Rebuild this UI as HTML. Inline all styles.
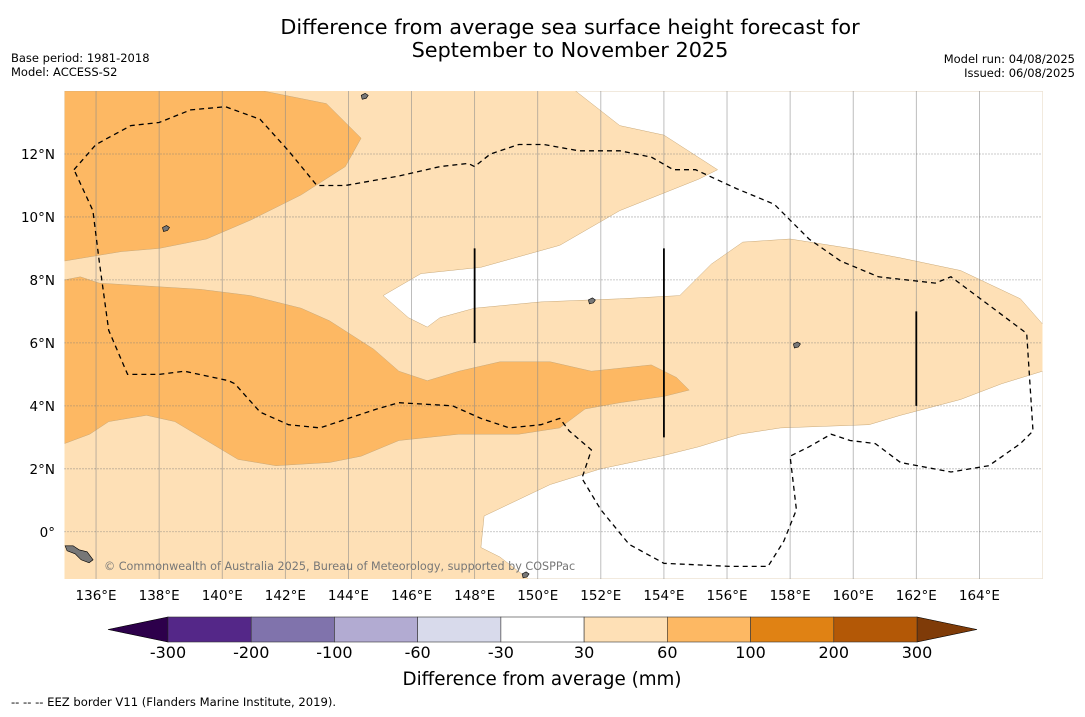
<!DOCTYPE html>
<html><head><meta charset="utf-8">
<style>
html,body{margin:0;padding:0;background:#fff;}
body{width:1085px;height:713px;overflow:hidden;font-family:"DejaVu Sans","Liberation Sans",sans-serif;}
svg text{font-family:"DejaVu Sans","Liberation Sans",sans-serif;}
</style></head>
<body>
<svg id="chart" width="1085" height="713" xmlns="http://www.w3.org/2000/svg">
<text x="570" y="34" font-size="20.8" text-anchor="middle">Difference from average sea surface height forecast for</text>
<text x="570" y="57" font-size="20.8" text-anchor="middle">September to November 2025</text>
<text x="11" y="62" font-size="11.5">Base period: 1981-2018</text>
<text x="11" y="76" font-size="11.5">Model: ACCESS-S2</text>
<text x="1075" y="63" font-size="11.5" text-anchor="end">Model run: 04/08/2025</text>
<text x="1075" y="77" font-size="11.5" text-anchor="end">Issued: 06/08/2025</text>
<g id="map"></g>
<g id="cbar"></g>
<text x="542" y="685" font-size="18.3" text-anchor="middle">Difference from average (mm)</text>
<text x="11" y="706" font-size="11.6">--  --  -- EEZ border V11 (Flanders Marine Institute, 2019).</text>
</svg>
<script>
const lonTicks=[136,138,140,142,144,146,148,150,152,154,156,158,160,162,164];
const latTicks=[12,10,8,6,4,2,0];
const whiteTop=[[151.2,14],[166,14],[166,6.6],[165.3,7.4],[163.4,8.3],[161.5,8.7],[159.9,9.0],[158.0,9.3],[156.5,9.2],[155.5,8.5],[154.5,7.5],[152.6,7.4],[150.1,7.3],[148.0,7.1],[146.9,6.8],[146.5,6.5],[145.9,6.8],[145.1,7.5],[146.3,8.2],[148.2,8.4],[150.7,9.1],[152.6,10.2],[155.1,11.2],[155.7,11.5],[154.0,12.6],[152.6,12.9]];
const whiteBottom=[[166,5.1],[164.7,4.7],[163.4,4.2],[161.5,3.7],[160.5,3.4],[157.7,3.3],[156.4,3.1],[155.1,2.7],[153.9,2.4],[152,2.0],[150.4,1.5],[148.3,0.5],[148.2,-0.5],[148.8,-0.8],[149.7,-1.5],[166,-1.5]];
const darkNorth=[[135,14],[141.3,14],[143.3,13.6],[144.4,12.5],[143.9,11.6],[142.5,10.7],[140.9,9.9],[139.5,9.3],[138.0,9.0],[136.8,8.9],[135,8.6]];
const darkSouth=[[135,8.0],[135.5,8.1],[136.1,7.9],[137.7,7.8],[139.3,7.7],[140.9,7.5],[142.5,7.1],[143.4,6.7],[144.8,5.8],[145.6,5.1],[146.5,4.8],[147.5,5.1],[148.8,5.4],[150.4,5.4],[151.7,5.1],[153.6,5.3],[154.4,4.9],[154.8,4.5],[154,4.3],[152.6,4.1],[151.5,3.9],[150.7,3.3],[149.4,3.1],[147.5,3.1],[145.6,2.9],[144.4,2.4],[143.4,2.2],[141.7,2.1],[140.5,2.3],[139.5,2.9],[138.5,3.5],[137.6,3.7],[136.4,3.5],[135.8,3.1],[135,2.8]];
const eez=[[135.3,11.5],[136,12.3],[137.1,12.9],[138,13.0],[139,13.4],[140.1,13.5],[141.2,13.1],[142.1,12.1],[143,11.0],[143.9,11.0],[145.6,11.3],[146.9,11.6],[147.8,11.7],[148,11.6],[148.5,12.0],[149.4,12.3],[150.2,12.3],[151.3,12.1],[152.6,12.1],[153.6,11.9],[154.3,11.5],[155,11.5],[156.3,10.9],[157.5,10.4],[158.6,9.3],[159.6,8.6],[160.8,8.1],[162.6,7.9],[163.1,8.1],[164.3,7.2],[165.5,6.3],[165.7,3.2],[165.3,2.8],[164.3,2.1],[163.1,1.9],[161.5,2.2],[160.7,2.8],[159.9,2.9],[159.3,3.1],[158.6,2.7],[158,2.4],[158.2,0.7],[157.8,-0.3],[157.3,-1.1],[156.1,-1.1],[154,-1.0],[152.9,-0.4],[152,0.7],[151.4,1.7],[151.7,2.6],[151,3.2],[150.7,3.6],[150.1,3.4],[149.1,3.3],[148.2,3.6],[147.3,4.0],[145.6,4.1],[144.9,3.9],[144,3.6],[143.1,3.3],[142.1,3.4],[141.2,3.8],[140.4,4.7],[140.2,4.8],[138.8,5.1],[138,5.0],[137,5.0],[136.4,6.4],[136.1,8.6],[135.9,10.2],[135.3,11.5]];
const segLines=[[148,9.0,6.0],[154,9.0,3.0],[162,7.0,4.0]];
const islands=[[135.4,-0.7],[144.5,13.8],[158.2,5.9],[149.6,-1.4],[151.7,7.3],[138.2,9.6]];
const cbarBounds=["-300","-200","-100","-60","-30","30","60","100","200","300"];
const cbarColors=["#542788","#8073ac","#b2abd2","#d8daeb","#ffffff","#fee0b6","#fdb863","#e08214","#b35806"];
const NS="http://www.w3.org/2000/svg";
const LON0=135,LON1=166,LAT0=-1.5,LAT1=14;
const X0=64.5,X1=1042.5,Y0=91,Y1=579;
function xs(lon){return X0+(lon-LON0)/(LON1-LON0)*(X1-X0);}
function ys(lat){return Y0+(LAT1-lat)/(LAT1-LAT0)*(Y1-Y0);}
function mk(tag,attrs,parent){const e=document.createElementNS(NS,tag);for(const k in attrs)e.setAttribute(k,attrs[k]);parent.appendChild(e);return e;}
function pts(a){return a.map(p=>xs(p[0]).toFixed(1)+","+ys(p[1]).toFixed(1)).join(" ");}
const map=document.getElementById('map');
const cp=mk('clipPath',{id:'mapclip'},map);
mk('rect',{x:X0,y:Y0,width:X1-X0,height:Y1-Y0},cp);
const inner=mk('g',{'clip-path':'url(#mapclip)'},map);
let bg=mk('rect',{x:X0,y:Y0,width:X1-X0,height:Y1-Y0,fill:'#fee0b6'},inner);


[[whiteTop,'#ffffff','contour-below-30-north'],[whiteBottom,'#ffffff','contour-below-30-south'],[darkNorth,'#fdb863','contour-60-100-north'],[darkSouth,'#fdb863','contour-60-100-south']].forEach(d=>{
  const p=mk('polygon',{points:pts(d[0]),fill:d[1],stroke:'#c8a878','stroke-width':0.5},inner);
  
  
});
lonTicks.forEach(l=>{
  const g=mk('line',{x1:xs(l),x2:xs(l),y1:Y0,y2:Y1,stroke:'#8a8a8a','stroke-opacity':0.7,'stroke-width':0.8},inner);
  
  
  const t=mk('text',{x:xs(l),y:600,'font-size':13.5,'text-anchor':'middle'},map);
  t.textContent=l+'°E';
  
  
});
latTicks.forEach(l=>{
  const g=mk('line',{x1:X0,x2:X1,y1:ys(l),y2:ys(l),stroke:'#777','stroke-width':0.8,'stroke-dasharray':'1,2'},inner);
  
  
  const t=mk('text',{x:55,y:ys(l)+5,'font-size':13.5,'text-anchor':'end'},map);
  t.textContent=l===0?'0°':l+'°N';
  
  
});
const ez=mk('polyline',{points:pts(eez),fill:'none',stroke:'#000','stroke-width':1.3,'stroke-dasharray':'5,4'},inner);


segLines.forEach(s=>{
  const l=mk('line',{x1:xs(s[0]),x2:xs(s[0]),y1:ys(s[1]),y2:ys(s[2]),stroke:'#000','stroke-width':1.8},inner);
  
  
});
islands.forEach((a,i)=>{
  const big=i===0;
  const d=big?'M-12,-8 l8,0 l6,4 l8,2 l6,8 l-4,3 l-8,-3 l-6,-6 l-8,-3z':'M-3,-2 l4,-2 l3,2 l-2,3 l-4,1z';
  const p=mk('path',{d:d,transform:'translate('+xs(a[0]).toFixed(1)+','+ys(a[1]).toFixed(1)+')',fill:'#777',stroke:'#000','stroke-width':0.6},inner);
  
  
});
const cr=mk('text',{x:104,y:570,'font-size':11.2,fill:'#777'},inner);
cr.textContent='© Commonwealth of Australia 2025, Bureau of Meteorology, supported by COSPPac';


const cb=document.getElementById('cbar');
const CX0=168,CX1=917,CY=617,CH=25,n=cbarColors.length,w=(CX1-CX0)/n;
const lt=mk('polygon',{points:`108,${CY+CH/2} ${CX0},${CY} ${CX0},${CY+CH}`,fill:'#2d004b',stroke:'#000','stroke-width':0.6},cb);


const rt=mk('polygon',{points:`977,${CY+CH/2} ${CX1},${CY} ${CX1},${CY+CH}`,fill:'#7f3b08',stroke:'#000','stroke-width':0.6},cb);


cbarColors.forEach((c,i)=>{
  const r=mk('rect',{x:CX0+i*w,y:CY,width:w,height:CH,fill:c,stroke:'#333','stroke-width':0.6},cb);
  
  
});
cbarBounds.forEach((b,i)=>{
  const t=mk('text',{x:CX0+i*w,y:CY+CH+16,'font-size':16,'text-anchor':'middle'},cb);
  t.textContent=b;
  
  
});
</script>
</body></html>
